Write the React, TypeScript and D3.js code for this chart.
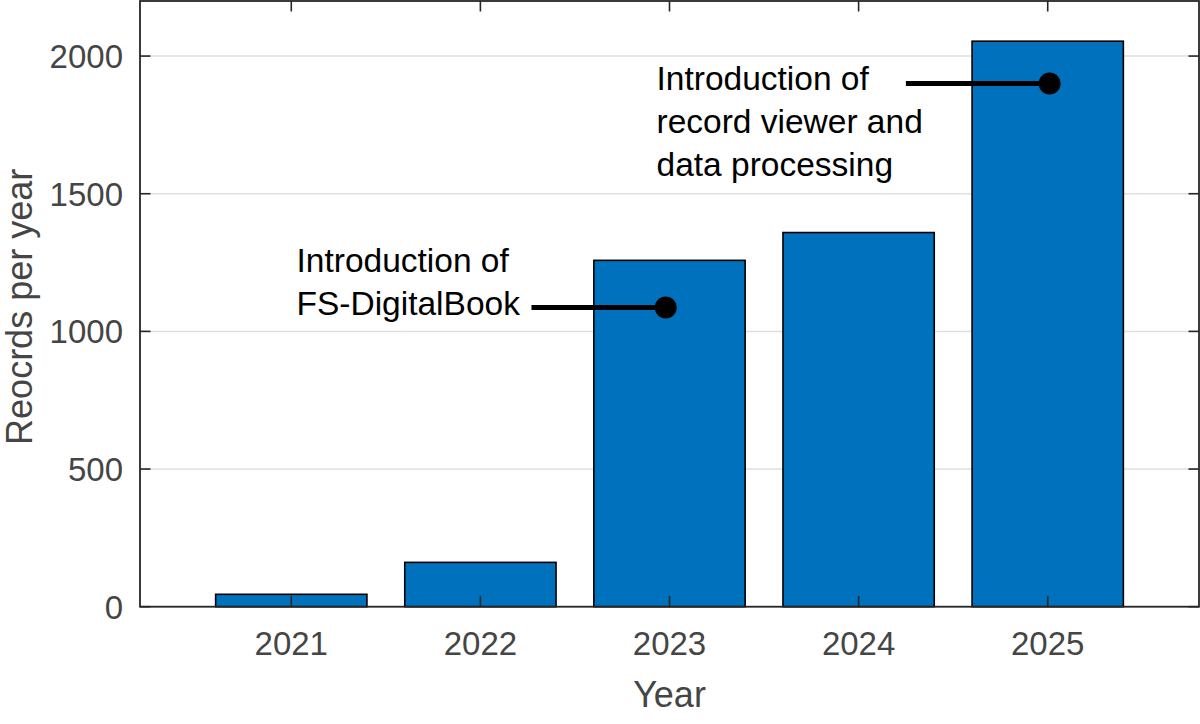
import React from "react";
import * as d3 from "d3";

const years = [2021, 2022, 2023, 2024, 2025];
const records = [45, 161, 1258, 1359, 2054];
const yTicks = [0, 500, 1000, 1500, 2000];

const annoLines1 = ["Introduction of", "FS-DigitalBook"];
const annoLines2 = ["Introduction of", "record viewer and", "data processing"];
// anchor point (year, value) and start of leader line (year)
const annoPoints = [
  { x: 2022.98, y: 1087, x0: 2022.27 },
  { x: 2025.01, y: 1900, x0: 2024.25 },
];

const W = 1200;
const H = 724;
const L = 140;
const R = 1199;
const T = 1;
const B = 606.7;
const FONT = "'Liberation Sans', Arial, Helvetica, sans-serif";

export default function App() {
  const x = d3.scaleLinear().domain([2020.2, 2025.8]).range([L, R]);
  const y = d3.scaleLinear().domain([0, 2200]).range([B, T]);
  const bw = x(2021.8) - x(2021);
  const tick = 10.5;
  const axisColor = "#262626";
  const labelColor = "#454545";

  return (
    <svg
      width={W}
      height={H}
      viewBox={`0 0 ${W} ${H}`}
      style={{ position: "absolute", left: 0, top: 0, background: "#fff" }}
      fontFamily={FONT}
    >
      <rect x={0} y={0} width={W} height={H} fill="#fff" />
      {/* grid */}
      {yTicks.map((t) => (
        <line key={"g" + t} x1={L} x2={R} y1={y(t)} y2={y(t)} stroke="#dfdfdf" strokeWidth={1.5} />
      ))}
      {/* bars */}
      {years.map((yr, i) => (
        <rect
          key={yr}
          x={x(yr) - bw / 2}
          y={y(records[i])}
          width={bw}
          height={y(0) - y(records[i])}
          fill="#0072BD"
          stroke="#000"
          strokeWidth={1.6}
        />
      ))}
      {/* box */}
      <rect x={L} y={T} width={R - L} height={B - T} fill="none" stroke={axisColor} strokeWidth={1.8} />
      {/* x ticks */}
      {years.map((yr) => (
        <g key={"xt" + yr}>
          <line x1={x(yr)} x2={x(yr)} y1={B} y2={B - tick} stroke={axisColor} strokeWidth={1.6} />
          <line x1={x(yr)} x2={x(yr)} y1={T} y2={T + tick} stroke={axisColor} strokeWidth={1.6} />
          <text x={x(yr)} y={655} textAnchor="middle" fontSize={33} fill={labelColor}>
            {yr}
          </text>
        </g>
      ))}
      {/* y ticks */}
      {yTicks.map((t) => (
        <g key={"yt" + t}>
          <line x1={L} x2={L + tick} y1={y(t)} y2={y(t)} stroke={axisColor} strokeWidth={1.6} />
          <line x1={R} x2={R - tick} y1={y(t)} y2={y(t)} stroke={axisColor} strokeWidth={1.6} />
          <text x={123} y={y(t) + 12} textAnchor="end" fontSize={33} fill={labelColor}>
            {t}
          </text>
        </g>
      ))}
      {/* axis labels */}
      <text x={(L + R) / 2} y={707} textAnchor="middle" fontSize={36} fill={labelColor}>
        Year
      </text>
      <text
        transform={`translate(32, ${(T + B) / 2 + 3}) rotate(-90)`}
        textAnchor="middle"
        fontSize={36}
        fill={labelColor}
      >
        Reocrds per year
      </text>
      {/* annotations */}
      {annoPoints.map((p, i) => (
        <g key={"a" + i}>
          <line x1={x(p.x0)} x2={x(p.x)} y1={y(p.y)} y2={y(p.y)} stroke="#000" strokeWidth={5} />
          <circle cx={x(p.x)} cy={y(p.y)} r={11} fill="#000" />
        </g>
      ))}
      <text fontSize={33.5} fill="#000">
        {annoLines1.map((s, i) => (
          <tspan key={s} x={296.5} y={272 + i * 43}>
            {s}
          </tspan>
        ))}
      </text>
      <text fontSize={33.5} fill="#000">
        {annoLines2.map((s, i) => (
          <tspan key={s} x={656.5} y={90 + i * 43}>
            {s}
          </tspan>
        ))}
      </text>
    </svg>
  );
}
